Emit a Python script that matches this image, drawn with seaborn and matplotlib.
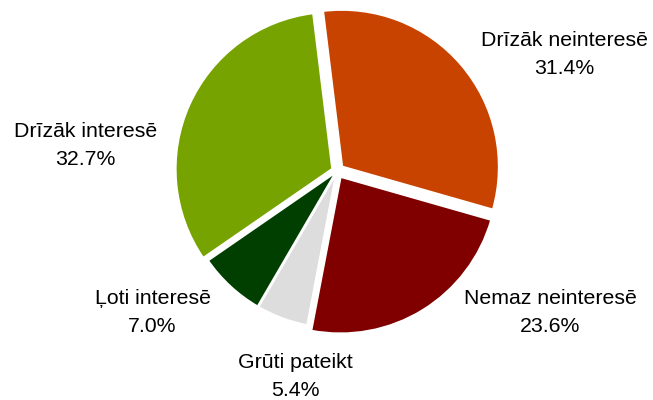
import matplotlib
matplotlib.use('Agg')
import matplotlib.pyplot as plt
import seaborn as sns

# Answer categories and shares (%), clockwise from the top
categories = ['Drīzāk neinteresē', 'Nemaz neinteresē', 'Grūti pateikt',
              'Ļoti interesē', 'Drīzāk interesē']
shares = [31.4, 23.6, 5.4, 7.0, 32.7]
colors = ['#C84300', '#800000', '#DDDDDD', '#003F00', '#77A300']
explode = [0.04, 0.04, 0.0, 0.0, 0.03]

# label anchor points (in pie-radius units)
label_pos = [(1.43, 0.73), (1.34, -0.89), (-0.26, -1.29),
             (-1.16, -0.89), (-1.58, 0.16)]

sns.set_theme(style='white')
plt.rcParams['font.family'] = ['Liberation Sans', 'DejaVu Sans']

fig = plt.figure(figsize=(6.53, 4.00), dpi=100)
ax = fig.add_axes([0, 0, 1, 1])

wedges, _ = ax.pie(shares, colors=colors, startangle=97, counterclock=False,
                   explode=explode, radius=0.99,
                   wedgeprops={'edgecolor': 'white', 'linewidth': 2})

for (x, y), cat, val in zip(label_pos, categories, shares):
    ax.text(x, y, f'{cat}\n{val:.1f}%', ha='center', va='center',
            fontsize=15.3, linespacing=1.6, color='black')

ax.set_xlim(-337 / 159, (653 - 337) / 159)
ax.set_ylim(-229 / 159, 171 / 159)
ax.set_aspect('equal')
ax.axis('off')

fig.savefig('out.png', dpi=100)
plt.close('all')
